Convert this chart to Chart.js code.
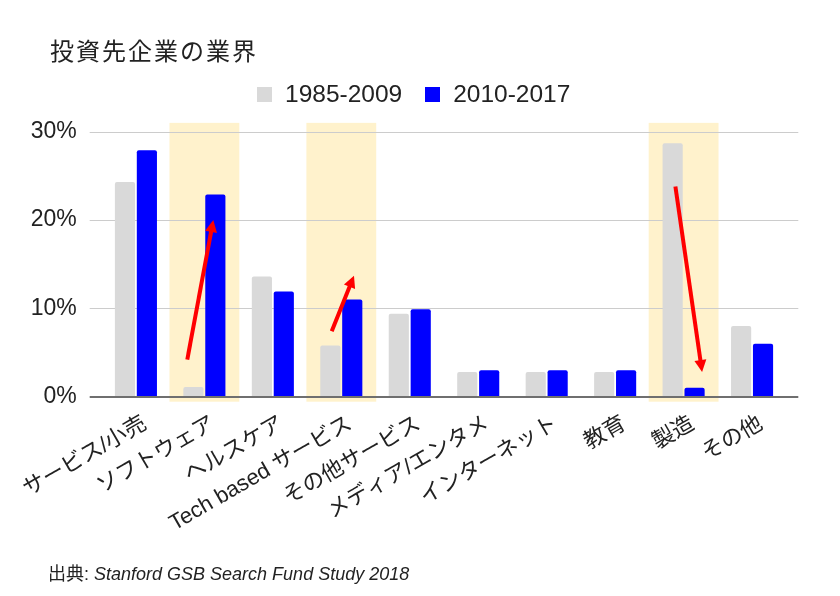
<!DOCTYPE html>
<html>
<head>
<meta charset="utf-8">
<script src="https://cdn.jsdelivr.net/npm/chart.js@4.4.0/dist/chart.umd.min.js"></script>
<style>
  body { margin: 0; background: #fff; }
  #wrap { position: relative; width: 840px; height: 596px; font-family: Arial, "Liberation Sans", "Noto Sans CJK JP", sans-serif; color: #222; }
  #chart { position: absolute; left: 0; top: 0; }
  #title { position: absolute; left: 50px; top: 40px; font-size: 24px; line-height: 24px; letter-spacing: 2px; white-space: nowrap; }
  #legend { position: absolute; left: 257px; top: 82px; font-size: 24.5px; line-height: 24px; display: flex; align-items: center; white-space: nowrap; }
  #legend .sw { display: inline-block; width: 15px; height: 15px; margin-right: 13px; }
  #legend .item { display: flex; align-items: center; margin-right: 23px; }
  #source { position: absolute; left: 48px; top: 564px; font-size: 18px; line-height: 20px; white-space: nowrap; }
</style>
</head>
<body>
<div id="wrap">
  <canvas id="chart" width="840" height="596"></canvas>
  <div id="title">投資先企業の業界</div>
  <div id="legend"></div>
  <div id="source">出典: <i>Stanford GSB Search Fund Study 2018</i></div>
</div>
<script>
const categories = ["サービス/小売", "ソフトウェア", "ヘルスケア", "Tech based サービス", "その他サービス",
  "メディア/エンタメ", "インターネット", "教育", "製造", "その他"];
const seriesNames = ["1985-2009", "2010-2017"];
const share1985 = [24.3, 1.1, 13.6, 5.8, 9.4, 2.8, 2.8, 2.8, 28.7, 8.0];
const share2010 = [27.9, 22.9, 11.9, 11.0, 9.9, 3.0, 3.0, 3.0, 1.0, 6.0];
const yTicks = [0, 10, 20, 30];
const highlighted = [1, 3, 8];
// arrows: [category from, value from, category to, value to]
const arrows = [
  [0.75, 4.2, 1.13, 20.0],
  [2.86, 7.4, 3.185, 13.7],
  [7.88, 23.8, 8.27, 2.8]
];

const colors = ["#d9d9d9", "#0000ff"];
const font = 'Arial, "Liberation Sans", "Noto Sans CJK JP", sans-serif';

// legend as html
const legend = document.getElementById("legend");
seriesNames.forEach((name, i) => {
  const item = document.createElement("span");
  item.className = "item";
  item.innerHTML = '<span class="sw" style="background:' + colors[i] + '"></span>' + name;
  legend.appendChild(item);
});

const decor = {
  id: "decor",
  beforeDatasetsDraw(chart) {
    const { ctx, scales: { x, y } } = chart;
    const cw = x.getPixelForValue(1) - x.getPixelForValue(0);
    ctx.save();
    ctx.fillStyle = "#fff2cc";
    highlighted.forEach(i => {
      const cx = x.getPixelForValue(i);
      const top = y.getPixelForValue(31);
      const bottom = y.getPixelForValue(0) + 5;
      ctx.fillRect(cx - cw * 0.51, top, cw * 1.02, bottom - top);
    });
    ctx.strokeStyle = "#cccccc";
    ctx.lineWidth = 1;
    yTicks.forEach(v => {
      if (v === 0) return;
      const py = Math.round(y.getPixelForValue(v)) + 0.5;
      ctx.beginPath();
      ctx.moveTo(x.left - 12, py);
      ctx.lineTo(x.right + 12, py);
      ctx.stroke();
    });
    ctx.restore();
  },
  afterDatasetsDraw(chart) {
    const { ctx, scales: { x, y } } = chart;
    ctx.save();
    const py = Math.round(y.getPixelForValue(0));
    ctx.strokeStyle = "#6f6f6f";
    ctx.lineWidth = 2;
    ctx.beginPath();
    ctx.moveTo(x.left - 12, py);
    ctx.lineTo(x.right + 12, py);
    ctx.stroke();

    ctx.strokeStyle = "#ff0000";
    ctx.fillStyle = "#ff0000";
    arrows.forEach(a => {
      const x1 = x.getPixelForValue(a[0]), y1 = y.getPixelForValue(a[1]);
      const x2 = x.getPixelForValue(a[2]), y2 = y.getPixelForValue(a[3]);
      const ang = Math.atan2(y2 - y1, x2 - x1);
      const head = 12, half = 6;
      const bx = x2 - head * Math.cos(ang), by = y2 - head * Math.sin(ang);
      ctx.lineWidth = 4;
      ctx.beginPath();
      ctx.moveTo(x1, y1);
      ctx.lineTo(bx + 2 * Math.cos(ang), by + 2 * Math.sin(ang));
      ctx.stroke();
      ctx.beginPath();
      ctx.moveTo(x2, y2);
      ctx.lineTo(bx + half * Math.sin(ang), by - half * Math.cos(ang));
      ctx.lineTo(bx - half * Math.sin(ang), by + half * Math.cos(ang));
      ctx.closePath();
      ctx.fill();
    });
    ctx.restore();
  }
};

new Chart(document.getElementById("chart"), {
  type: "bar",
  data: {
    labels: categories,
    datasets: [
      { label: seriesNames[0], data: share1985, backgroundColor: colors[0] },
      { label: seriesNames[1], data: share2010, backgroundColor: colors[1] }
    ]
  },
  options: {
    responsive: false,
    animation: false,
    layout: { padding: { top: 131.7, right: 53.7, bottom: 49.3, left: 0 } },
    datasets: {
      bar: {
        categoryPercentage: 0.64,
        barPercentage: 0.92,
        borderRadius: { topLeft: 2, topRight: 2 },
        borderSkipped: "start"
      }
    },
    plugins: {
      legend: { display: false },
      title: { display: false },
      tooltip: { enabled: false }
    },
    scales: {
      x: {
        grid: { display: false, drawTicks: false },
        border: { display: false },
        ticks: {
          autoSkip: false,
          minRotation: 30,
          maxRotation: 30,
          padding: 14,
          labelOffset: 9,
          color: "#222",
          font: { family: font, size: 22 }
        },
        afterFit(scale) {
          scale.height = 150;
          scale.paddingLeft = 0;
          scale.paddingRight = 0;
        }
      },
      y: {
        min: 0,
        max: 30,
        grid: { display: false, drawTicks: false },
        border: { display: false },
        ticks: {
          stepSize: 10,
          padding: 25,
          color: "#222",
          font: { family: font, size: 23 },
          callback: v => v + "%"
        },
        afterFit(scale) { scale.width = 101.7; }
      }
    }
  },
  plugins: [decor]
});
</script>
</body>
</html>
